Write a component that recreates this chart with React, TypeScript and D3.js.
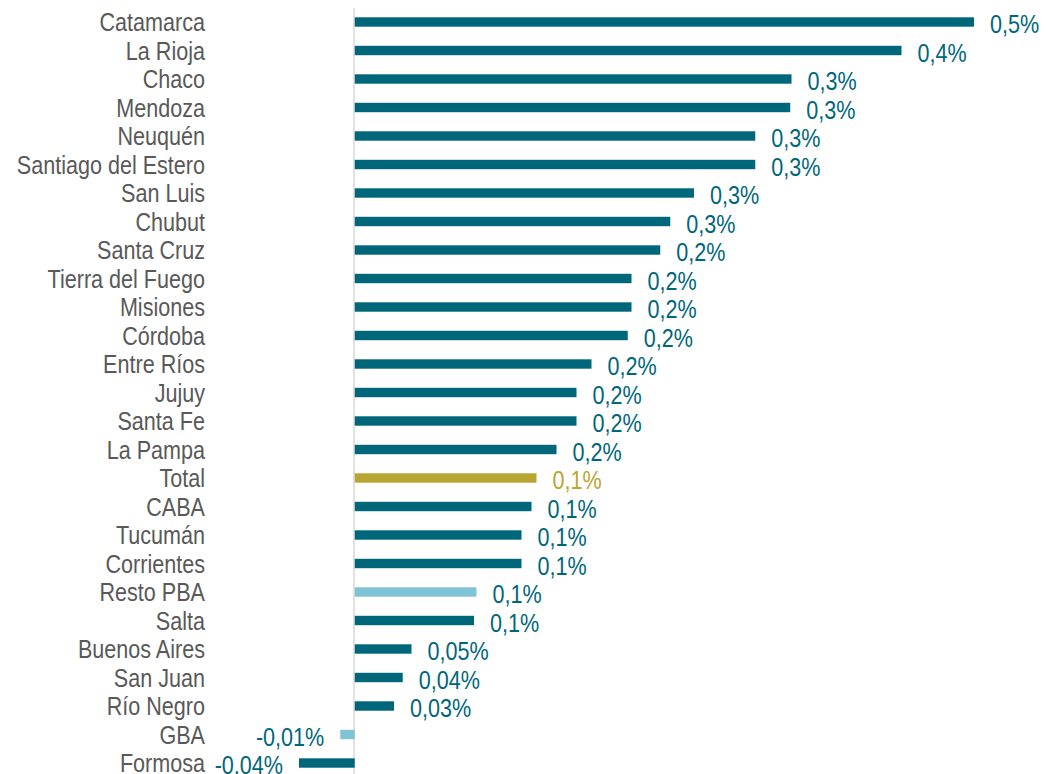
import React, { useEffect, useRef } from "react";
import * as d3 from "d3";

// datos (variación %)
const provincias = [
  "Catamarca",
  "La Rioja",
  "Chaco",
  "Mendoza",
  "Neuquén",
  "Santiago del Estero",
  "San Luis",
  "Chubut",
  "Santa Cruz",
  "Tierra del Fuego",
  "Misiones",
  "Córdoba",
  "Entre Ríos",
  "Jujuy",
  "Santa Fe",
  "La Pampa",
  "Total",
  "CABA",
  "Tucumán",
  "Corrientes",
  "Resto PBA",
  "Salta",
  "Buenos Aires",
  "San Juan",
  "Río Negro",
  "GBA",
  "Formosa",
];

const variacion = [
  0.496, 0.438, 0.35, 0.349, 0.321, 0.321, 0.272, 0.253, 0.245, 0.222, 0.222,
  0.219, 0.19, 0.178, 0.178, 0.162, 0.146, 0.142, 0.134, 0.134, 0.098, 0.096,
  0.046, 0.039, 0.032, -0.011, -0.044,
];

const etiquetas = [
  "0,5%", "0,4%", "0,3%", "0,3%", "0,3%", "0,3%", "0,3%", "0,3%", "0,2%",
  "0,2%", "0,2%", "0,2%", "0,2%", "0,2%", "0,2%", "0,2%", "0,1%", "0,1%",
  "0,1%", "0,1%", "0,1%", "0,1%", "0,05%", "0,04%", "0,03%", "-0,01%",
  "-0,04%",
];

const TEAL = "#00677a";
const CELESTE = "#7fc3d6";
const DORADO = "#b9a532";

const colorDe = (nombre: string) => {
  if (nombre === "Total") return DORADO;
  if (nombre === "Resto PBA" || nombre === "GBA") return CELESTE;
  return TEAL;
};

const FONT = "'Liberation Sans', Arial, sans-serif";
const ANGOSTO = 0.83; // simula Arial Narrow

const App = () => {
  const svgRef = useRef<SVGSVGElement | null>(null);

  useEffect(() => {
    const width = 1046;
    const height = 774;
    const data = provincias.map((p, i) => ({
      nombre: p,
      valor: variacion[i],
      etiqueta: etiquetas[i],
    }));

    const svg = d3.select(svgRef.current);
    svg.attr("width", width).attr("height", height);
    svg.selectAll("*").remove();

    //escalas
    const xScale = d3.scaleLinear().domain([-0.05, 0.5]).range([291.5, 979]);
    const yScale = d3
      .scaleBand()
      .domain(provincias)
      .range([7.75, 777.25])
      .paddingInner(0.67)
      .paddingOuter(0.335);

    const x0 = xScale(0);

    //línea del cero
    svg
      .append("line")
      .attr("x1", x0)
      .attr("x2", x0)
      .attr("y1", 8)
      .attr("y2", height)
      .attr("stroke", "#d9d9d9")
      .attr("stroke-width", 1.5);

    //barras
    svg
      .selectAll(".barra")
      .data(data)
      .join("rect")
      .attr("class", "barra")
      .attr("x", (d) => Math.min(xScale(d.valor), x0 + 0.75))
      .attr("y", (d) => yScale(d.nombre) as number)
      .attr("width", (d) => Math.abs(xScale(d.valor) - (x0 + 0.75)))
      .attr("height", yScale.bandwidth())
      .attr("fill", (d) => colorDe(d.nombre));

    const centro = (d: { nombre: string }) =>
      (yScale(d.nombre) as number) + yScale.bandwidth() / 2;

    //etiquetas de categoría
    svg
      .selectAll(".cat")
      .data(data)
      .join("text")
      .attr("class", "cat")
      .attr("transform", (d) => `translate(205,${centro(d)}) scale(${ANGOSTO},1)`)
      .attr("dy", "0.36em")
      .attr("text-anchor", "end")
      .attr("fill", "#595959")
      .style("font-family", FONT)
      .style("font-size", "26px")
      .text((d) => d.nombre);

    //etiquetas de valor
    svg
      .selectAll(".valor")
      .data(data)
      .join("text")
      .attr("class", "valor")
      .attr("transform", (d) => {
        const x = d.valor >= 0 ? xScale(d.valor) + 16 : xScale(d.valor) - 16;
        return `translate(${x},${centro(d) + 2}) scale(${ANGOSTO},1)`;
      })
      .attr("dy", "0.36em")
      .attr("text-anchor", (d) => (d.valor >= 0 ? "start" : "end"))
      .attr("fill", (d) => (d.nombre === "Total" ? DORADO : TEAL))
      .style("font-family", FONT)
      .style("font-size", "26px")
      .text((d) => d.etiqueta);
  }, []);

  return (
    <div style={{ position: "absolute", left: 0, top: 0, background: "#fff" }}>
      <svg ref={svgRef} style={{ display: "block" }} />
    </div>
  );
};

export default App;
